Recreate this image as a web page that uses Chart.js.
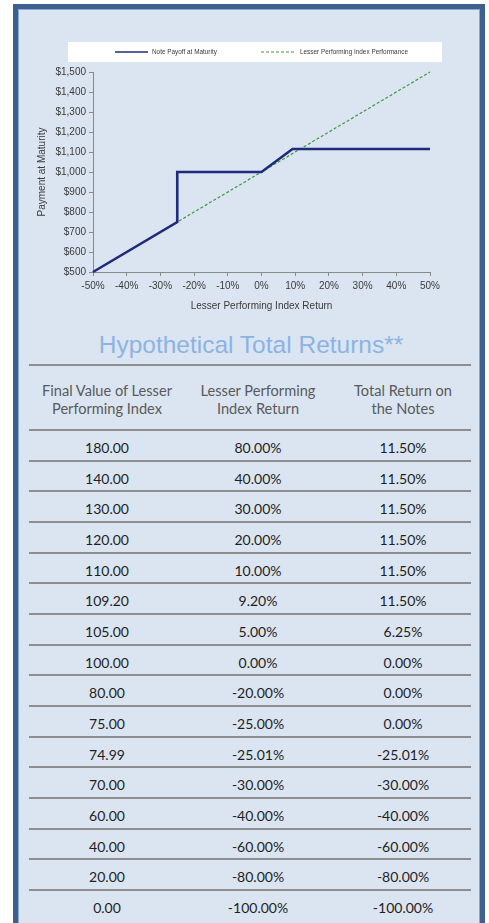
<!DOCTYPE html>
<html>
<head>
<meta charset="utf-8">
<title>Hypothetical Total Returns</title>
<script src="https://cdn.jsdelivr.net/npm/chart.js@4.4.1/dist/chart.umd.min.js"></script>
<style>
    body { margin:0; width:489px; height:923px; overflow:hidden; position:relative; background:#fff; }
    #frame {
        position:absolute; left:13px; top:4px; width:472px; height:960px;
        box-sizing:border-box; border:5px solid #3d6090; border-bottom:none;
        background:#dbe5f1; box-shadow: inset 0 0 0 1px #8aa7cc;
    }
    #chart-wrap { position:absolute; left:18px; top:8px; width:462px; height:312px; }
    #title {
        position:absolute; left:0; width:502px; top:331px; text-align:center;
        font-family:'Liberation Sans', Arial, sans-serif; font-size:24.5px; line-height:28px;
        color:#8db3e2;
    }
    #table { position:absolute; left:29px; top:364px; width:442px; font-family:Lato, 'Open Sans', sans-serif; }
    .row { position:relative; box-sizing:border-box; border-top:2px solid #8e8e8e; height:30.67px; }
    .row.head { height:65px; }
    .cell { position:absolute; top:0; text-align:center; }
    .head .cell { padding-top:16px; font-size:14.6px; line-height:18px; color:#5a5a5a; }
    .body .cell { padding-top:3px; font-size:14px; line-height:28px; color:#1e1e1e; }
    .c0 { left:0; width:156px; }
    .c1 { left:151px; width:156px; }
    .c2 { left:296px; width:156px; }
</style>
</head>
<body>
<div id="frame"></div>
<div id="chart-wrap"><canvas id="payoff-chart" width="462" height="312"></canvas></div>
<div id="title">Hypothetical Total Returns**</div>
<div id="table"></div>

<script>
// ── 圖表資料 ──
const payoffX = [-50, -25, -25, 0, 9.2, 50];
const payoffY = [500, 750, 1000, 1000, 1115, 1115];
const indexX  = [-50, 50];
const indexY  = [500, 1500];

// ── 表格資料 ──
const tableHeads   = ['Final Value of Lesser<br>Performing Index', 'Lesser Performing<br>Index Return', 'Total Return on<br>the Notes'];
const finalValues  = ['180.00', '140.00', '130.00', '120.00', '110.00', '109.20', '105.00', '100.00',
                      '80.00', '75.00', '74.99', '70.00', '60.00', '40.00', '20.00', '0.00'];
const indexReturns = ['80.00%', '40.00%', '30.00%', '20.00%', '10.00%', '9.20%', '5.00%', '0.00%',
                      '-20.00%', '-25.00%', '-25.01%', '-30.00%', '-40.00%', '-60.00%', '-80.00%', '-100.00%'];
const noteReturns  = ['11.50%', '11.50%', '11.50%', '11.50%', '11.50%', '11.50%', '6.25%', '0.00%',
                      '0.00%', '0.00%', '-25.01%', '-30.00%', '-40.00%', '-60.00%', '-80.00%', '-100.00%'];

const AXIS_COLOR = '#8a8a8a';
const TEXT_COLOR = '#3a3a3a';

// ── 白底圖例 (自訂) ──
const legendBox = {
    id: 'legendBox',
    afterDraw(chart) {
        const ctx = chart.ctx;
        const itemX = [97, 243];
        const lineW = [33, 35];
        ctx.save();
        ctx.globalCompositeOperation = 'destination-over';
        ctx.fillStyle = '#ffffff';
        ctx.fillRect(50, 34, 374, 20);
        ctx.restore();
        ctx.save();
        chart.data.datasets.forEach((ds, i) => {
            ctx.strokeStyle = ds.borderColor;
            ctx.lineWidth = i === 0 ? 1.5 : 1.2;
            ctx.setLineDash(ds.borderDash || []);
            ctx.beginPath();
            ctx.moveTo(itemX[i], 44);
            ctx.lineTo(itemX[i] + lineW[i], 44);
            ctx.stroke();
            ctx.setLineDash([]);
            ctx.fillStyle = TEXT_COLOR;
            ctx.font = '6.4px "Liberation Sans", Arial, sans-serif';
            ctx.textBaseline = 'middle';
            ctx.fillText(ds.label, itemX[i] + lineW[i] + 4, 44.5);
        });
        ctx.restore();
    }
};

function renderChart() {
    new Chart(document.getElementById('payoff-chart').getContext('2d'), {
        type: 'scatter',
        data: {
            datasets: [{
                label: 'Note Payoff at Maturity',
                data: payoffX.map((x, i) => ({ x: x, y: payoffY[i] })),
                showLine: true,
                borderColor: '#1f2b7c',
                borderWidth: 2.6,
                pointRadius: 0,
                tension: 0,
                clip: 4
            }, {
                label: 'Lesser Performing Index Performance',
                data: indexX.map((x, i) => ({ x: x, y: indexY[i] })),
                showLine: true,
                borderColor: '#3d9a3d',
                borderWidth: 1.2,
                borderDash: [3, 2],
                pointRadius: 0,
                clip: 4
            }]
        },
        options: {
            responsive: false,
            animation: false,
            layout: { padding: { top: 64, right: 50, bottom: 0, left: 0 } },
            plugins: {
                legend: { display: false },
                tooltip: { enabled: false }
            },
            scales: {
                x: {
                    type: 'linear',
                    min: -50, max: 50,
                    ticks: {
                        stepSize: 10,
                        color: TEXT_COLOR,
                        font: { family: 'Liberation Sans', size: 10 },
                        padding: 4,
                        maxRotation: 0,
                        callback: v => v + '%'
                    },
                    grid: { drawOnChartArea: false, drawTicks: true, tickLength: 4, color: AXIS_COLOR },
                    border: { display: true, color: AXIS_COLOR, width: 1 },
                    title: {
                        display: true,
                        text: 'Lesser Performing Index Return',
                        color: TEXT_COLOR,
                        font: { family: 'Liberation Sans', size: 10 },
                        padding: { top: 0, bottom: 8 }
                    },
                    afterFit: s => { s.height = 48; }
                },
                y: {
                    min: 500, max: 1500,
                    ticks: {
                        stepSize: 100,
                        color: TEXT_COLOR,
                        font: { family: 'Liberation Sans', size: 10 },
                        padding: 3,
                        callback: v => '$' + Number(v).toLocaleString('en-US')
                    },
                    grid: { drawOnChartArea: false, drawTicks: true, tickLength: 4, color: AXIS_COLOR },
                    border: { display: true, color: AXIS_COLOR, width: 1 },
                    title: {
                        display: true,
                        text: 'Payment at Maturity',
                        color: TEXT_COLOR,
                        font: { family: 'Liberation Sans', size: 10 },
                        padding: { top: 18, bottom: 0 }
                    },
                    afterFit: s => { s.width = 75; }
                }
            }
        },
        plugins: [legendBox]
    });
}

// ── 表格 ──
function renderTable() {
    const cols = [finalValues, indexReturns, noteReturns];
    let html = '<div class="row head">' +
        tableHeads.map((h, i) => `<div class="cell c${i}">${h}</div>`).join('') + '</div>';
    html += finalValues.map((_, r) =>
        '<div class="row body">' +
        cols.map((col, i) => `<div class="cell c${i}">${col[r]}</div>`).join('') +
        '</div>'
    ).join('');
    document.getElementById('table').innerHTML = html;
}

renderChart();
renderTable();
</script>
</body>
</html>
